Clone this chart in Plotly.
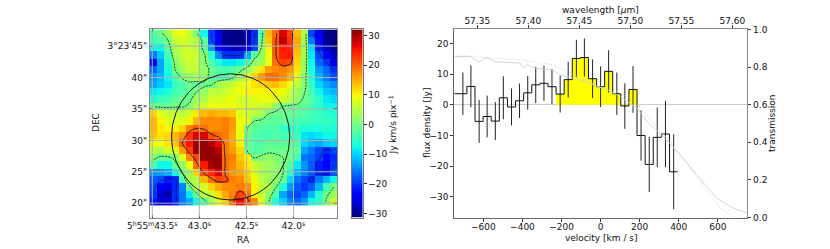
import plotly.graph_objects as go

W, H = 830, 249
FONT = "DejaVu Sans"

# ---- moment map values (Jy km/s per pixel), rows top to bottom
moment_map = [
 [-3,-1,3,8,9,6,0,-8,-20,-26,-30,-31,-31,-28,-21,-3,14,19,27,22,14,4,-19,-25,-31,-31],
 [-4,-3,0,6,7,6,4,-2,-19,-25,-31,-31,-31,-29,-20,-1,13,20,29,23,15,3,-16,-24,-30,-31],
 [-8,-8,-2,4,6,6,5,-2,-14,-23,-26,-28,-28,-24,-19,1,10,20,25,24,14,3,-10,-22,-28,-30],
 [-16,-11,-4,3,6,7,6,1,-6,-15,-20.5,-21,-20.5,-13,-2,2,9,20,24,25,13,3,-9,-19,-25,-28],
 [-24,-13,-6,1,5,6,6,1,-3,-7,-9,-9,-8,-4,2,3,9,19,22,21,12,2,-8,-17,-20,-26],
 [-17,-13,-7,0,3,6,5,2,-1,-3,-4,-3,-1,2,6,11,16,17,18,16,11,2,-7,-14,-17,-20.5],
 [-14,-12,-8,-3,1,2,3,2,-2,-3,-3,-1,3,7,12,16,19,19,17,14,8,1,-6,-12,-16,-19],
 [-13,-11,-9,-5,-3,-1,-2,-1,-0.5,3,5,6,8,9,11,12,13,14,12,9,5,1,-5,-10,-13,-15],
 [-9,-8,-7,-4,-3,-2,0,2,5,5,6,8,9,10,10,10,10,10,9,6,3,0,-4,-8,-11,-12],
 [-6,-5,-4,-2,-1,-1,3,4,7,7,8,9,7,7,8,9,9,8,7,5,2,-1,-3,-6,-9,-10],
 [-0.5,-1,-1,-0.5,-0.5,1,5,7,9,9,9,9,8,7,7,6,6,2,0,-1,-1,-2,-4,-6,-8,-8],
 [12,8,6,6,5,7,11,14,15,14,14,13,8,7,5,4,0,-1,-1,-1,-2,-3,-4,-5,-6,-7],
 [14,10,8,7,8,10,14,17,17,17,18,16,9,8,0,-1,-2,-2,-2,-3,-4,-4,-5,-5,-5,-6],
 [14,11,10,10,12,18,20,19,17,17,18,16,9,0,-2,-3,-3,-3,-5,-6,-5,-7,-7,-7,-6,-7],
 [13,11,12,14,17,23,27,27,21,19,18,15,9,-1,-3,-4,-4,-3,-4,-4,-5,-9,-10,-9,-8,-8],
 [10,9,11,13,20,25,30,31,29,26,18,15,10,-1,-3,-3,-2,-2,-2,-2,-3,-10,-12,-13,-11,-10],
 [5,4,7,7,16,22,30,31,31,29,18,16,12,-1,-3,-2,-1,-1,-1,-1,-2,-13,-16,-19,-21,-19],
 [1,-1,-1,1,8,17,22,31,31,31,19,18,13,10,0,1,2,1,0,-1,-4,-16,-17,-19.5,-23,-21],
 [-3,-8,-8,-1,2,9,19,25,30,31,19,17,14,11,6,4,3,2,0,-3,-9,-14,-18,-22,-24,-20],
 [-14,-14,-13,-8,0,3,12,21,24,27,19,16,15,12,8,4,3,2,0,-6,-12,-15,-18,-21,-22,-18],
 [-18,-19,-22,-21,-3,4,5,14,19,22,21,18,17,13,9,5,3,2,-1,-10,-16,-19,-21,-16,-12,-8],
 [-19,-24,-26,-21,-15,-1,5,7,12,15,17,17,18,17,10,6,4,0,-7,-14,-18,-20,-18,-12,-4,0],
 [-20,-27,-29,-20.5,-16,-9,-1,5,6,11,15,18,22,19,10,6,2,-3,-13,-17,-19,-17,-12,-6,-1,3],
 [-22,-27,-26,-21,-16,-13,-8,-2,3,8,12,19,26,21,17,8,0,-7,-10,-15,-17,-14,-8,-6,1,6],
]

ra_ticks = [43.5, 43.0, 42.5, 42.0]
ra_labels = ["5<sup>h</sup>55<sup>m</sup>43.5<sup>s</sup>", "43.0<sup>s</sup>", "42.5<sup>s</sup>", "42.0<sup>s</sup>"]
dec_ticks = [45, 40, 35, 30, 25, 20]
dec_labels = ["3°23'45\"", "40\"", "35\"", "30\"", "25\"", "20\""]
cbar_ticks = [-30, -20, -10, 0, 10, 20, 30]

# ---- spectrum
velocity = [-705,-664,-622,-581,-539,-498,-456,-415,-373,-332,-290,-249,-207,-166,-124,-83,-41,0,41,83,124,166,207,249,290,332,374]
flux = [3.6,6.0,-5.4,-3.8,-5.3,2.3,-0.7,1.3,3.9,6.5,7.0,5.9,3.5,8.2,15.1,15.4,8.5,5.9,10.9,3.6,-0.4,5.0,-10.0,-19.4,-10.6,-9.5,-21.8]
flux_err = [6.9,6.8,7.0,6.8,6.2,7.0,6.0,5.6,5.5,5.9,5.7,5.7,6.0,5.8,6.1,6.2,6.3,6.6,6.9,6.9,7.4,7.6,8.2,9.0,9.7,10.8,12.2]
line_first, line_last = 12, 21  # channels shaded as line emission

trans_v = [-748,-667,-625,-582,-540,-463,-412,-395,-378,-326,-250,-207,-105,32,100,187,236,321,398,492,594,679,751]
trans = [.856,.856,.826,.851,.828,.825,.821,.795,.812,.791,.787,.759,.732,.679,.644,.582,.511,.431,.343,.227,.103,.05,.023]
trans2_v = [-748,-582,-412,-241,-156,-3,100,151,202,253,355,441,526,611,679,751]
trans2 = [.869,.848,.839,.812,.768,.697,.662,.636,.59,.52,.404,.29,.165,.05,.003,0]

wave_ticks = [57.35, 57.40, 57.45, 57.50, 57.55, 57.60]
vel_ticks = [-600, -400, -200, 0, 200, 400, 600]
flux_ticks = [-30, -20, -10, 0, 10, 20]
trans_ticks = [0, .2, .4, .6, .8, 1]

# matplotlib-style jet
JET = [
    [0.0, "rgb(0,0,127)"], [0.11, "rgb(0,0,255)"], [0.125, "rgb(0,0,255)"], [0.34, "rgb(0,219,255)"],
    [0.35, "rgb(0,229,247)"], [0.375, "rgb(20,255,226)"], [0.64, "rgb(240,255,8)"], [0.66, "rgb(255,236,0)"],
    [0.89, "rgb(255,19,0)"], [0.91, "rgb(232,0,0)"], [1.0, "rgb(127,0,0)"],
]
ZMIN, ZMAX = -31.4, 32.1

# ---- axis calibration
RA_L, RA_R = 43.524, 41.535
DEC_T, DEC_B = 47.66, 17.72
DEC_IMG_B = 19.63
VIRIAL_RA = (43.296, 42.040)
VIRIAL_DEC = (40.6, 20.5)

nrow, ncol = len(moment_map), len(moment_map[0])
dx = (RA_R - RA_L) / ncol
dy = (DEC_T - DEC_IMG_B) / nrow
xc = [RA_L + dx * (i + .5) for i in range(ncol)]
yc = [DEC_T - dy * (j + .5) for j in range(nrow)]

def steps(v, f, pad_left=None):
    w = 41.5
    xs, ys = [], []
    for a, b in zip(v, f):
        xs += [a - w / 2, a + w / 2]
        ys += [b, b]
    if pad_left is not None:
        xs.insert(0, pad_left)
        ys.insert(0, f[0])
    return xs, ys

fig = go.Figure()

fig.add_trace(go.Heatmap(
    z=moment_map, x=xc, y=yc, colorscale=JET, zmin=ZMIN, zmax=ZMAX, xaxis="x", yaxis="y",
    zsmooth=False, hoverinfo="skip", showscale=False,
))
fig.add_trace(go.Contour(
    z=moment_map, x=xc, y=yc, xaxis="x", yaxis="y", showscale=False, hoverinfo="skip",
    contours=dict(coloring="none", start=-20, end=0, size=20),
    line=dict(color="#111", width=0.8, dash="2px,1px", smoothing=0.9),
))
fig.add_trace(go.Contour(
    z=moment_map, x=xc, y=yc, xaxis="x", yaxis="y", showscale=False, hoverinfo="skip",
    contours=dict(coloring="none", start=20, end=20, size=1),
    line=dict(color="#111", width=0.9, smoothing=0.9),
))

# colour bar ramp on its own axes
n_ramp = 188
ramp = [ZMIN + (ZMAX - ZMIN) * (k + .5) / n_ramp for k in range(n_ramp)]
fig.add_trace(go.Heatmap(z=[[v] for v in ramp], x=[0], y=ramp, colorscale=JET, zmin=ZMIN, zmax=ZMAX,
                         xaxis="x4", yaxis="y4", showscale=False, hoverinfo="skip"))

# spectrum
fx, fy = steps(velocity[line_first:line_last+1], flux[line_first:line_last+1])
fig.add_trace(go.Scatter(x=fx, y=fy, xaxis="x2", yaxis="y2", mode="lines", line=dict(width=0, color="yellow"),
                         fill="tozeroy", fillcolor="#ffff00", hoverinfo="skip"))
sx, sy = steps(velocity, flux, pad_left=-750)
fig.add_trace(go.Scatter(x=sx, y=sy, xaxis="x2", yaxis="y2", mode="lines", line=dict(color="#111", width=1), hoverinfo="skip"))
fig.add_trace(go.Scatter(x=velocity, y=flux, xaxis="x2", yaxis="y2", mode="markers", marker=dict(size=1, color="#222"),
                         error_y=dict(type="data", array=flux_err, width=0, thickness=1, color="#222"), hoverinfo="skip"))
# transmission
fig.add_trace(go.Scatter(x=trans_v, y=trans, xaxis="x2", yaxis="y3", mode="lines", line=dict(color="#cfcfcf", width=0.9), hoverinfo="skip"))
fig.add_trace(go.Scatter(x=trans2_v, y=trans2, xaxis="x2", yaxis="y3", mode="lines", line=dict(color="#cfcfcf", width=0.9, dash="1px,1.5px"), hoverinfo="skip"))

# wavelength axis only (invisible anchor trace)
fig.add_trace(go.Scatter(x=wave_ticks, y=[None]*len(wave_ticks), xaxis="x3", yaxis="y2", mode="lines", showlegend=False, hoverinfo="skip"))

shapes = []
for t in ra_ticks:
    shapes.append(dict(type="line", xref="x", yref="y", x0=t, x1=t, y0=DEC_B, y1=DEC_T, line=dict(color="#b0b0b0", width=1), layer="above"))
for t in dec_ticks:
    shapes.append(dict(type="line", xref="x", yref="y", x0=RA_L, x1=RA_R, y0=t, y1=t, line=dict(color="#b0b0b0", width=1), layer="above"))
shapes.append(dict(type="circle", xref="x", yref="y", x0=VIRIAL_RA[0], x1=VIRIAL_RA[1], y0=VIRIAL_DEC[1], y1=VIRIAL_DEC[0],
                   line=dict(color="#111", width=1), layer="above"))

def label(text, x, y, angle=0):
    return dict(text=text, x=x/W, y=1-y/H, xref="paper", yref="paper", showarrow=False, textangle=angle,
                xanchor="center", yanchor="middle", font=dict(family=FONT, size=9, color="#111"))

annotations = [
    label("RA", 243.5, 240), label("DEC", 96, 123, -90),
    label("Jy km/s pix<sup>−1</sup>", 392.5, 125, -90),
    label("flux density [Jy]", 427, 123, -90), label("velocity [km / s]", 600.5, 237.5),
    label("wavelength [<i>μ</i>m]", 600.5, 9.5), label("transmission", 772, 123, -90),
]

tf = dict(family=FONT, size=9, color="#111")
dom_y = [1-217.5/H, 1-29.4/H]
fig.update_layout(
    template="none",
    width=W, height=H, autosize=False, margin=dict(l=0, r=0, t=0, b=0, pad=0), paper_bgcolor="white", plot_bgcolor="white",
    showlegend=False, shapes=shapes, annotations=annotations, font=tf,
    xaxis=dict(automargin=False, domain=[150/W, 337.3/W], range=[RA_L, RA_R], tickvals=ra_ticks, ticktext=ra_labels, ticks="inside", ticklen=3,
               tickcolor="#111", showgrid=False, zeroline=False, showline=True, linecolor="#888", linewidth=1, mirror="allticks",
               tickfont=tf, anchor="y"),
    yaxis=dict(automargin=False, domain=dom_y, range=[DEC_B, DEC_T], tickvals=dec_ticks, ticktext=dec_labels, ticks="inside", ticklen=3,
               tickcolor="#111", showgrid=False, zeroline=False, showline=True, linecolor="#888", linewidth=1, mirror="allticks",
               tickfont=tf, anchor="x"),
    xaxis2=dict(automargin=False, domain=[454.3/W, 747.3/W], range=[-749, 751], tickvals=vel_ticks, ticks="outside", ticklen=3, tickcolor="#333",
                ticklabelstandoff=-2, showgrid=False, zeroline=False, showline=True, linecolor="#666", linewidth=1, tickfont=tf, anchor="y2"),
    yaxis2=dict(automargin=False, domain=dom_y, range=[-36.7, 24.56], tickvals=flux_ticks, ticks="outside", ticklen=3, tickcolor="#333",
                showgrid=False, zeroline=True, zerolinecolor="#cccccc", zerolinewidth=1, showline=True, linecolor="#666", linewidth=1,
                tickfont=tf, anchor="x2"),
    xaxis3=dict(automargin=False, overlaying="x2", side="top", range=[57.3275, 57.6147], tickvals=wave_ticks, ticktext=[f"{t:.2f}" for t in wave_ticks],
                ticks="outside", ticklen=3, tickcolor="#333", ticklabelstandoff=-2, showgrid=False, zeroline=False, showline=True, linecolor="#888",
                linewidth=1, tickfont=tf, anchor="y2"),
    yaxis3=dict(automargin=False, overlaying="y2", side="right", range=[0, 1], tickvals=trans_ticks, ticktext=[f"{t:.1f}" for t in trans_ticks],
                ticks="outside", ticklen=3, tickcolor="#333", showgrid=False, zeroline=False, showline=True, linecolor="#888",
                linewidth=1, tickfont=tf, anchor="x2"),
    xaxis4=dict(automargin=False, domain=[352/W, 362.5/W], showticklabels=False, ticks="", showgrid=False, zeroline=False, range=[-.5, .5],
                showline=True, linecolor="#777", linewidth=1, mirror=True, anchor="y4"),
    yaxis4=dict(automargin=False, domain=dom_y, side="right", range=[ZMIN, ZMAX], tickvals=cbar_ticks, ticks="outside", ticklen=3, tickcolor="#222",
                showgrid=False, zeroline=False, showline=True, linecolor="#777", linewidth=1, mirror=True, tickfont=tf, anchor="x4"),
)

fig.write_html("out.html", config={"displayModeBar": False},
               post_script="document.body.style.margin='0';document.documentElement.style.overflow='hidden';")
